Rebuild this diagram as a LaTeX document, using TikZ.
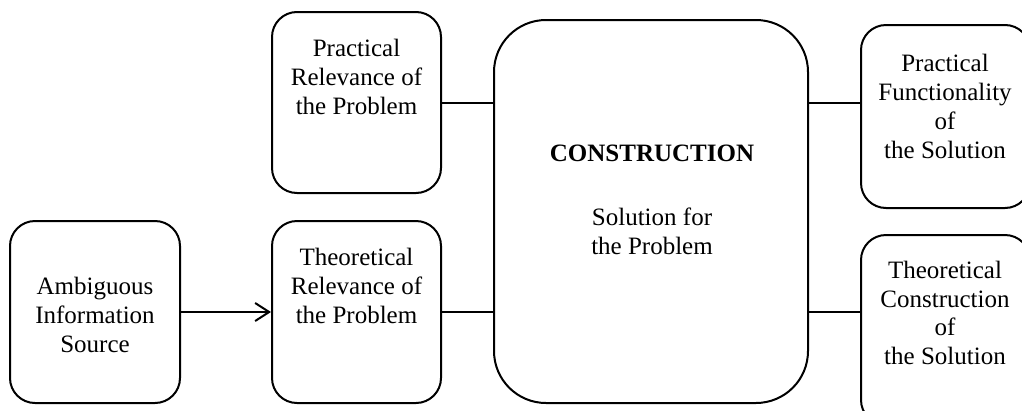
\documentclass[tikz,border=0pt]{standalone}
\usepackage{fontspec}
\setmainfont{Liberation Serif}
\usetikzlibrary{arrows.meta}
\begin{document}
\begin{tikzpicture}[x=1pt,y=-1pt,
  box/.style={draw, line width=2pt, rounded corners=25pt, inner sep=0pt},
  bigbox/.style={box, rounded corners=52pt},
  txt/.style={align=center, inner sep=0pt, font=\fontsize{25}{28.75}\selectfont},
  link/.style={line width=2pt},
  arrowlink/.style={link, -{Straight Barb[length=14pt, width=18pt, line width=2pt]}}]
  \clip (0,0) rectangle (1022,410);
  \fill[white] (0,0) rectangle (1022,410);

  % boxes
  \node[box, minimum width=170pt, minimum height=182pt] (amb) at (95,312) {};
  \node[box, minimum width=169pt, minimum height=181pt] (pr)  at (356.5,102.5) {};
  \node[box, minimum width=169pt, minimum height=182pt] (tr)  at (356.5,312) {};
  \node[bigbox, minimum width=314pt, minimum height=383pt] (con) at (651,211.5) {};
  \node[box, minimum width=169pt, minimum height=183pt] (pf)  at (945.5,116.5) {};
  \node[box, minimum width=169pt, minimum height=190pt] (tc)  at (945.5,330) {};

  % texts
  \node[txt] (ambT) at (95,315) {Ambiguous\\Information\\Source};
  \node[txt] (prT)  at (356.5,77) {Practical\\Relevance of\\the Problem};
  \node[txt] (trT)  at (356.5,286) {Theoretical\\Relevance of\\the Problem};
  \node[txt, font=\fontsize{25}{28.75}\selectfont\bfseries] (conH) at (652,153) {CONSTRUCTION};
  \node[txt] (conT) at (652,231) {Solution for\\the Problem};
  \node[txt] (pfT)  at (945,106.5) {Practical\\Functionality\\of\\the Solution};
  \node[txt] (tcT)  at (945,313) {Theoretical\\Construction\\of\\the Solution};

  % connectors
  \draw[arrowlink] (amb.east) -- (tr.west);
  \draw[link] (pr.east) -- (pr.east -| con.west);
  \draw[link] (tr.east) -- (tr.east -| con.west);
  \draw[link] (pr.east -| con.east) -- (pr.east -| pf.west);
  \draw[link] (tr.east -| con.east) -- (tr.east -| tc.west);
\end{tikzpicture}
\end{document}
